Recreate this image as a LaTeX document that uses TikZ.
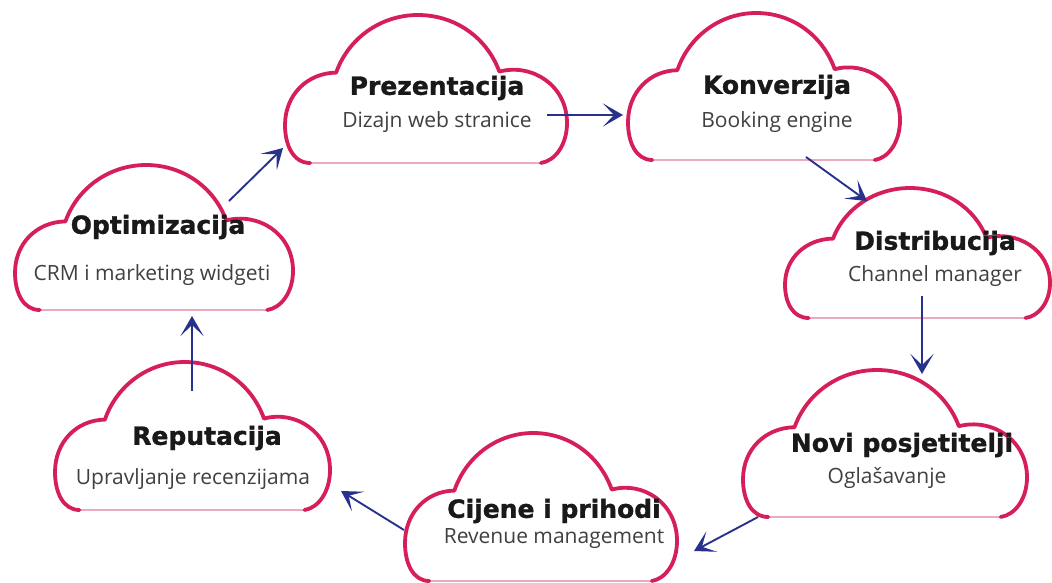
\documentclass[tikz,border=0pt]{standalone}
\usepackage{fontspec}
\setmainfont{Open Sans}
\newfontfamily\titlefont{DejaVu Sans}[BoldFeatures={FakeBold=1.2}]
\usetikzlibrary{arrows.meta}
\definecolor{cloudred}{RGB}{214,30,88}
\definecolor{cloudpale}{RGB}{236,170,192}
\definecolor{arrowblue}{RGB}{40,50,140}
\definecolor{titlecol}{RGB}{25,25,25}
\definecolor{subcol}{RGB}{64,64,64}
\tikzset{
  cloudline/.style={draw=cloudred, line width=3.8pt, line join=round, line cap=round},
  cloudbase/.style={draw=cloudpale, line width=1.2pt},
  ttl/.style={font=\titlefont\bfseries\fontsize{25}{29}\selectfont, text=titlecol, inner sep=0pt},
  sub/.style={font=\fontsize{21}{25}\selectfont, text=subcol, inner sep=0pt},
  arr/.style={draw=arrowblue, line width=1.9pt, -{Stealth[length=20pt,width=23pt,inset=11pt]}}
}
\newcommand\cloudpath{(25,0) .. controls (8,0) and (0,18) .. (0,38)
      .. controls (0,68) and (22,90) .. (50.8,90.4)
      .. controls (62.9,125) and (95.4,148) .. (132,148)
      .. controls (168.6,148) and (200.3,125.8) .. (212.8,91.4)
      .. controls (245,100) and (280,78) .. (280,40)
      .. controls (280,18) and (268,2) .. (254,0)}
\newcommand\cloudshape[4]{%
  \begin{scope}[shift={(#1,#4)}, xscale={(#3-#1)/280}, yscale={-(#4-#2)/148}]
    \fill[white] \cloudpath -- cycle;
    \path[cloudbase] (25,0) -- (254,0);
    \path[cloudline] \cloudpath;
  \end{scope}}
\begin{document}
\begin{tikzpicture}[x=1pt,y=-1pt]
\useasboundingbox[fill=white] (0,0) rectangle (1052,583);
% clouds
\cloudshape{285}{15}{567}{163}
\cloudshape{628}{13}{900}{160}
\cloudshape{785}{188}{1050}{318}
\cloudshape{743}{370}{1027}{517}
\cloudshape{405}{433}{677}{581}
\cloudshape{55}{362}{330}{510}
\cloudshape{15}{165}{293}{310}
% texts
\node[ttl] (prez) at (437,88) {Prezentacija};
\node[sub] (prezs) at (437,122) {Dizajn web stranice};
\node[ttl] (konv) at (777,87) {Konverzija};
\node[sub] (konvs) at (777,122) {Booking engine};
\node[ttl] (dist) at (935,243) {Distribucija};
\node[sub] (dists) at (935,276) {Channel manager};
\node[ttl] (novi) at (902,445) {Novi posjetitelji};
\node[sub] (novis) at (887,478) {Oglašavanje};
\node[ttl] (cij) at (554,511) {Cijene i prihodi};
\node[sub] (cijs) at (554,539) {Revenue management};
\node[ttl] (rep) at (207,438) {Reputacija};
\node[sub] (reps) at (193,479) {Upravljanje recenzijama};
\node[ttl] (opt) at (158,227) {Optimizacija};
\node[sub] (opts) at (152,275) {CRM i marketing widgeti};
% arrow ends
\coordinate (a1s) at (547,115); \coordinate (a1e) at (623,115);
\coordinate (a2s) at (806,157); \coordinate (a2e) at (867,201);
\coordinate (a3s) at (922,296); \coordinate (a3e) at (922,374);
\coordinate (a4s) at (758,517); \coordinate (a4e) at (694,551);
\coordinate (a5s) at (404,530); \coordinate (a5e) at (341,491);
\coordinate (a6s) at (192,391); \coordinate (a6e) at (192,316);
\coordinate (a7s) at (229,201); \coordinate (a7e) at (283,148);
\draw[arr] (a1s) -- (a1e);
\draw[arr] (a2s) -- (a2e);
\draw[arr] (a3s) -- (a3e);
\draw[arr] (a4s) -- (a4e);
\draw[arr] (a5s) -- (a5e);
\draw[arr] (a6s) -- (a6e);
\draw[arr] (a7s) -- (a7e);
\end{tikzpicture}
\end{document}
